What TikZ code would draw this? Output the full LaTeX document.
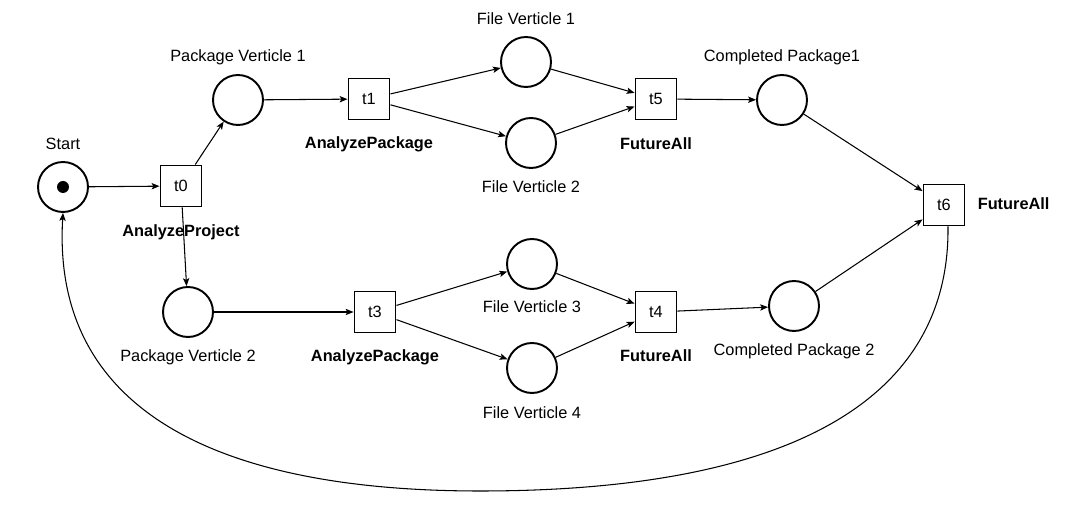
\documentclass[tikz,border=0pt]{standalone}
\usepackage{fontspec}
\setmainfont{Liberation Sans}
\usetikzlibrary{arrows.meta, positioning}
\tikzset{
  place/.style={circle, draw=black, line width=1.1pt, minimum size=1cm, inner sep=0pt},
  trans/.style={rectangle, draw=black, line width=1.1pt, minimum size=0.82cm, inner sep=0pt,
    font=\fontsize{9.3}{11}\selectfont},
  token/.style={circle, fill=black, minimum size=0.24cm, inner sep=0pt},
  lbl/.style={inner sep=0pt, text height=7pt, text depth=2pt, font=\fontsize{9.3}{11}\selectfont},
  blbl/.style={lbl, font=\fontsize{9.3}{11}\selectfont\bfseries},
  arr/.style={-{Stealth[length=4.5pt, width=3.6pt, inset=1pt]}, line width=0.6pt, draw=black},
}
\begin{document}
\begin{tikzpicture}[x=0.02cm, y=-0.02cm]
  \useasboundingbox (0,0) rectangle (1086,516);
  % places
  \node[place] (start) at (63,187) {};
  \node[token] (startmark) at (start) {};
  \node[place] (pv1) at (238,100) {};
  \node[place] (pv2) at (188,312) {};
  \node[place] (fv1) at (526,62) {};
  \node[place] (fv2) at (531,143) {};
  \node[place] (fv3) at (532,264) {};
  \node[place] (fv4) at (532,368) {};
  \node[place] (cp1) at (782,100) {};
  \node[place] (cp2) at (794,306) {};
  % transitions
  \node[trans] (t0) at (181,186) {t0};
  \node[trans] (t1) at (369,99) {t1};
  \node[trans] (t3) at (375,312) {t3};
  \node[trans] (t4) at (656,312) {t4};
  \node[trans] (t5) at (656,99) {t5};
  \node[trans] (t6) at (944,205) {t6};
  % labels
  \node[lbl, above=4.3pt of start] (startlbl) {Start};
  \node[lbl, above=4.8pt of pv1] (pv1lbl) {Package Verticle 1};
  \node[lbl, below=6.4pt of pv2] (pv2lbl) {Package Verticle 2};
  \node[lbl, above=4.3pt of fv1] (fv1lbl) {File Verticle 1};
  \node[lbl, below=6.2pt of fv2] (fv2lbl) {File Verticle 2};
  \node[lbl, below=5.4pt of fv3] (fv3lbl) {File Verticle 3};
  \node[lbl, below=6.6pt of fv4] (fv4lbl) {File Verticle 4};
  \node[lbl, above=5pt of cp1] (cp1lbl) {Completed Package1};
  \node[lbl, below=6.4pt of cp2] (cp2lbl) {Completed Package 2};
  \node[blbl, below=9.6pt of t0] (t0lbl) {AnalyzeProject};
  \node[blbl, below=9pt of t1] (t1lbl) {AnalyzePackage};
  \node[blbl, below=9pt of t3] (t3lbl) {AnalyzePackage};
  \node[blbl, below=9pt of t4] (t4lbl) {FutureAll};
  \node[blbl, below=9.4pt of t5] (t5lbl) {FutureAll};
  \node[blbl, right=6.8pt of t6] (t6lbl) {FutureAll};

  \draw[arr] (start) -- (t0);
  \draw[arr] (t0) -- (pv1);
  \draw[arr] (t0) -- (pv2);
  \draw[arr] (pv1) -- (t1);
  \draw[arr] (t1) -- (fv1);
  \draw[arr] (t1) -- (fv2);
  \draw[arr] (fv1) -- (t5);
  \draw[arr] (fv2) -- (t5);
  \draw[arr] (t5) -- (cp1);
  \draw[arr] (pv2) -- (t3);
  \draw[arr] (t3) -- (fv3);
  \draw[arr] (t3) -- (fv4);
  \draw[arr] (fv3) -- (t4);
  \draw[arr] (fv4) -- (t4);
  \draw[arr] (t4) -- (cp2);
  \draw[arr] (cp1) -- (t6);
  \draw[arr] (cp2) -- (t6);
  \draw[arr] ([xshift=0.08cm]t6.south) .. controls (950,400) and (790,491) .. (480,491)
    .. controls (200,491) and (52,400) .. (start.south);
\end{tikzpicture}
\end{document}
